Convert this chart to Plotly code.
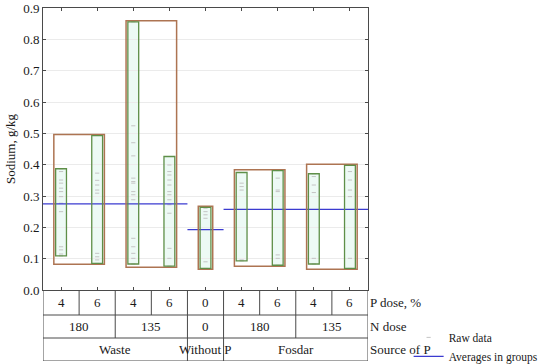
import plotly.graph_objects as go

# ---------------- data ----------------
categories = [0, 1, 2, 3, 4, 5, 6, 7, 8]
p_dose = ["4", "6", "4", "6", "0", "4", "6", "4", "6"]
n_dose_labels = ["180", "135", "0", "180", "135"]
n_dose_spans = [(0, 1), (2, 3), (4, 4), (5, 6), (7, 8)]
source_labels = ["Waste", "Without P", "Fosdar"]
source_spans = [(0, 3), (4, 4), (5, 8)]
averages = [0.275, 0.193, 0.257]

raw_0 = [0.387, 0.378, 0.351, 0.341, 0.325, 0.314, 0.298, 0.277, 0.250, 0.138, 0.128, 0.115, 0.109]
raw_1 = [0.493, 0.373, 0.350, 0.335, 0.319, 0.309, 0.117, 0.106, 0.096, 0.085]
raw_2 = [0.856, 0.524, 0.470, 0.428, 0.357, 0.346, 0.341, 0.314, 0.304, 0.288, 0.165, 0.138, 0.117, 0.101, 0.083]
raw_3 = [0.426, 0.399, 0.378, 0.367, 0.351, 0.335, 0.314, 0.304, 0.288, 0.272, 0.245, 0.133, 0.101, 0.076]
raw_4 = [0.264, 0.261, 0.250, 0.240, 0.229, 0.090, 0.069]
raw_5 = [0.375, 0.341, 0.330, 0.319, 0.096, 0.093]
raw_6 = [0.381, 0.357, 0.319, 0.314, 0.112, 0.101, 0.079]
raw_7 = [0.371, 0.362, 0.335, 0.311, 0.101, 0.083]
raw_8 = [0.398, 0.378, 0.351, 0.319, 0.298, 0.101, 0.069]
raw_data = [raw_0, raw_1, raw_2, raw_3, raw_4, raw_5, raw_6, raw_7, raw_8]

group_members = [[0, 1], [2, 3], [4], [5, 6], [7, 8]]

# ---------------- style ----------------
FONT = "Liberation Serif"
FS = 13
TXT = "#1a1a1a"
GREEN = "#5e8f48"
RED = "#ad7452"
BLUE = "#3b3bd0"
LINE = "#4a4a4a"

fig = go.Figure()

# raw data points
rx, ry = [], []
for c, vals in zip(categories, raw_data):
    for v in vals:
        rx.append(c)
        ry.append(v)
fig.add_trace(go.Scatter(
    x=rx, y=ry, mode="markers", name="Raw data",
    marker=dict(symbol="line-ew", size=3, color="#c4c4c4",
                line=dict(color="#c4c4c4", width=1)),
    xaxis="x", yaxis="y"))

# averages in groups
ax, ay = [], []
for (s, e), a in zip(source_spans, averages):
    ax += [s - 0.5, e + 0.5, None]
    ay += [a, a, None]
fig.add_trace(go.Scatter(
    x=ax, y=ay, mode="lines", name="Averages in groups",
    line=dict(color=BLUE, width=1.2), xaxis="x", yaxis="y"))

shapes = []
# group (red) boxes
pad = 0.003
for members in group_members:
    vals = [v for m in members for v in raw_data[m]]
    shapes.append(dict(type="rect", xref="x", yref="y", layer="above",
                       x0=members[0] - 0.2, x1=members[-1] + 0.2,
                       y0=min(vals) - pad, y1=max(vals) + pad,
                       line=dict(color=RED, width=1.5),
                       fillcolor="rgba(0,0,0,0)"))
# category (green) boxes
for c, vals in zip(categories, raw_data):
    shapes.append(dict(type="rect", xref="x", yref="y", layer="below",
                       x0=c - 0.15, x1=c + 0.15,
                       y0=min(vals), y1=max(vals),
                       line=dict(width=0),
                       fillcolor="rgba(215,245,232,0.45)"))
    shapes.append(dict(type="rect", xref="x", yref="y", layer="above",
                       x0=c - 0.15, x1=c + 0.15,
                       y0=min(vals), y1=max(vals),
                       line=dict(color=GREEN, width=1.3),
                       fillcolor="rgba(0,0,0,0)"))

# ---------------- table below the plot ----------------
shapes.append(dict(type="rect", xref="x", yref="y2", x0=-0.5, x1=8.5, y0=0, y1=71,
                   line=dict(color=LINE, width=1)))
for yy in [46, 23]:
    shapes.append(dict(type="line", xref="x", yref="y2", x0=-0.5, x1=8.5, y0=yy, y1=yy,
                       line=dict(color=LINE, width=1)))

annotations = []
tfont = dict(family=FONT, size=FS, color=TXT)
# row 1: P dose
for c in categories[:-1]:
    shapes.append(dict(type="line", xref="x", yref="y2", x0=c + 0.5, x1=c + 0.5,
                       y0=46, y1=71, line=dict(color=LINE, width=1)))
for c, t in zip(categories, p_dose):
    annotations.append(dict(x=c, y=58.5, xref="x", yref="y2", text=t, showarrow=False,
                            font=tfont))
# row 2: N dose
for (s, e), t in zip(n_dose_spans, n_dose_labels):
    if e < 8:
        shapes.append(dict(type="line", xref="x", yref="y2", x0=e + 0.5, x1=e + 0.5,
                           y0=23, y1=46, line=dict(color=LINE, width=1)))
    annotations.append(dict(x=(s + e) / 2, y=34.5, xref="x", yref="y2", text=t,
                            showarrow=False, font=tfont))
# row 3: source of P
for (s, e), t in zip(source_spans, source_labels):
    if e < 8:
        shapes.append(dict(type="line", xref="x", yref="y2", x0=e + 0.5, x1=e + 0.5,
                           y0=0, y1=23, line=dict(color=LINE, width=1)))
    annotations.append(dict(x=(s + e) / 2, y=11.5, xref="x", yref="y2", text=t,
                            showarrow=False, font=tfont))
# row labels
for yy, t in zip([58.5, 34.5, 11.5], ["P dose, %", "N dose", "Source of P"]):
    annotations.append(dict(x=1.0, y=yy, xref="paper", yref="y2", text=t,
                            xanchor="left", showarrow=False, font=tfont))

main_bottom = (361 - 290) / 353

fig.update_layout(
    width=550, height=364,
    margin=dict(l=43, r=182, t=8, b=3, autoexpand=False),
    paper_bgcolor="white", plot_bgcolor="white",
    font=dict(family=FONT, size=FS, color=TXT),
    showlegend=True,
    legend=dict(x=1.125, y=-0.028, xanchor="left", yanchor="bottom",
                font=dict(family=FONT, size=11.5, color=TXT),
                bgcolor="rgba(0,0,0,0)", tracegroupgap=0, itemwidth=30),
    xaxis=dict(range=[-0.5, 8.5], tickvals=categories, showticklabels=False,
               ticks="inside", ticklen=3, tickcolor=LINE, mirror="ticks",
               showline=True, linecolor=LINE, linewidth=1, showgrid=False,
               zeroline=False, anchor="y", automargin=False),
    yaxis=dict(domain=[main_bottom, 1], range=[0, 0.9], dtick=0.1, tickformat=".1f",
               ticks="inside", ticklen=3, tickcolor=LINE, mirror="ticks",
               showline=True, linecolor=LINE, linewidth=1, automargin=False,
               showgrid=True, gridcolor="#ebebeb", zeroline=False,
               title=dict(text="Sodium, g/kg", standoff=4, font=tfont),
               tickfont=tfont),
    yaxis2=dict(domain=[0, main_bottom], range=[0, 71], visible=False, anchor="x"),
    shapes=shapes,
    annotations=annotations,
)

fig.write_html("out.html", config={"displayModeBar": False},
               post_script="document.body.style.margin='0';document.body.style.overflow='hidden';")
